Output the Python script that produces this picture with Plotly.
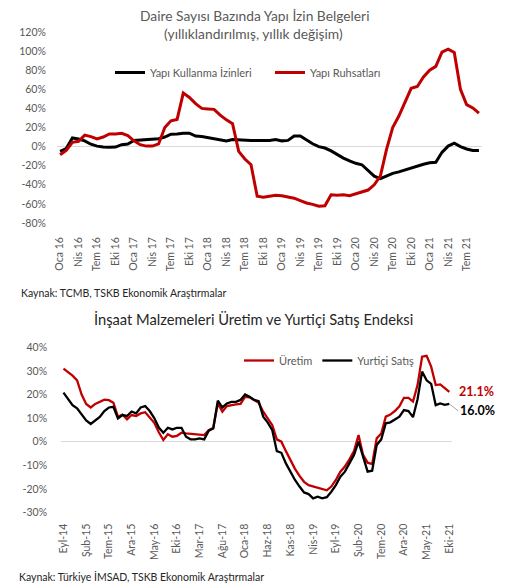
import plotly.graph_objects as go

W, H = 511, 583

MONTHS_TR = ["Oca", "Şub", "Mar", "Nis", "May", "Haz", "Tem", "Ağu", "Eyl", "Eki", "Kas", "Ara"]

# ---------------- Top chart: Jan 2016 - Sep 2021 ----------------
top_months = [f"{MONTHS_TR[i % 12]} {16 + i // 12}" for i in range(69)]
top_tick_labels = ["Oca 16", "Nis 16", "Tem 16", "Eki 16", "Oca 17", "Nis 17", "Tem 17", "Eki 17",
                   "Oca 18", "Nis 18", "Tem 18", "Eki 18", "Oca 19", "Nis 19", "Tem 19", "Eki 19",
                   "Oca 20", "Nis 20", "Tem 20", "Eki 20", "Oca 21", "Nis 21", "Tem 21"]
top_y_ticks = [-80, -60, -40, -20, 0, 20, 40, 60, 80, 100, 120]
top_y_labels = ["-80%", "-60%", "-40%", "-20%", "0%", "20%", "40%", "60%", "80%", "100%", "120%"]

yapi_kullanma = [-5, -2, 9, 8, 6, 2.5, 0.5, -0.5, -0.7, -0.5, 2, 2.8, 6.5, 7, 7, 8, 8.2, 10,
                 13, 13.2, 14, 14, 11, 10.5, 9.5, 8.5, 7.5, 6, 7.5, 7, 6.5, 6.3, 6.5, 6.3, 6.5,
                 7.5, 6, 6.5, 11, 11, 7, 3, 0, -1.5, -4.5, -8.5, -12, -15, -17.5, -19, -25, -31,
                 -33.5, -31, -28, -26.5, -24.5, -22, -20, -18.5, -17, -16.5, -6, 0.5, 3.5, 0,
                 -2.5, -4, -4]
yapi_ruhsat = [-8.5, -4, 4.5, 5.6, 12, 10.5, 8, 10, 13.2, 13.2, 14, 11.5, 6, 2, 0.5, 0.5, 2.8,
               20, 27, 28.5, 56, 51.5, 45, 40, 39.5, 39, 33, 28, 24, -5, -13, -19, -52, -53, -52,
               -51, -51.5, -52.5, -54, -56.5, -59, -60.5, -62.5, -62, -50.5, -51, -50.5, -51.5,
               -49.5, -47.5, -45.5, -40, -31, -3, 20, 32, 47, 61, 63, 73, 80, 84, 99, 102, 98.5,
               60, 44, 40.5, 35]

# ---------------- Bottom chart: Sep 2014 - Oct 2021 ----------------
bot_months = [f"{MONTHS_TR[(8 + i) % 12]}-{14 + (8 + i) // 12}" for i in range(86)]
bot_tick_labels = ["Eyl-14", "Şub-15", "Tem-15", "Ara-15", "May-16", "Eki-16", "Mar-17", "Ağu-17",
                   "Oca-18", "Haz-18", "Kas-18", "Nis-19", "Eyl-19", "Şub-20", "Tem-20", "Ara-20",
                   "May-21", "Eki-21"]
bot_y_ticks = [-30, -20, -10, 0, 10, 20, 30, 40]
bot_y_labels = ["-30%", "-20%", "-10%", "0%", "10%", "20%", "30%", "40%"]

uretim = [31, 29.5, 28, 26, 20, 16, 14.5, 16, 17, 17.8, 17.6, 16.5, 10.6, 11.5, 9.5, 11.3, 10.9,
          12, 12.5, 10, 8, 4, 0.7, 3.2, 2.1, 2.5, 3.8, 3.5, 3.3, 3.2, 3, 2.8, 4.9, 5.9, 16.2, 12.7,
          15.1, 15.6, 15.8, 16, 19, 18.8, 17.5, 16.5, 12.7, 9.9, 7, 1, 0, -4, -8, -11.5, -14.5,
          -17, -18.4, -19, -19.5, -20.3, -20.6, -19, -16.2, -12.7, -10.5, -7.5, -4, 2.8, -5.6,
          -8.9, -9.5, 1.4, 3.5, 10.6, 11.5, 13, 15, 18.6, 18.6, 17, 24, 36, 36.4, 31.8, 24, 24.3,
          22.6, 21.1]
yurtici_satis = [20.8, 18.4, 15.5, 14.1, 11.5, 9, 7.5, 9.2, 10.5, 13, 14.5, 14.8, 9.9, 11.3, 10.9,
                 12.8, 12, 14.5, 15.1, 13, 10, 6, 3.8, 5.9, 5.2, 5.9, 5.9, 2.1, 1, 1, 1.4, 1, 4.7,
                 5.6, 17.4, 14.5, 16.2, 16.9, 16.9, 17.7, 20, 19, 17.7, 17.2, 10.6, 8.1, 4.9, -4,
                 -4.7, -9.2, -12.7, -16.2, -19, -21.5, -22.2, -24, -23.3, -24, -23.5, -21.2, -18.4,
                 -14.8, -12.7, -9.2, -5.6, 0, -6.4, -12.7, -12.3, -1.4, 1, 7.8, 8.2, 9.5, 10.6, 13.4,
                 13, 10.4, 18, 29.7, 26, 24.5, 15.5, 16.2, 15.6, 16.0]

RED = "#C00000"
BLACK = "#000000"
TICK_GREY = "#595959"
FONT = "Lato"


def px_x(p):
    return p / W


def px_y(p):
    return 1 - p / H


fig = go.Figure()
fig.add_trace(go.Scatter(x=top_months, y=yapi_kullanma, name="Yapı Kullanma İzinleri", mode="lines",
                         line=dict(color=BLACK, width=3), xaxis="x", yaxis="y", legend="legend"))
fig.add_trace(go.Scatter(x=top_months, y=yapi_ruhsat, name="Yapı Ruhsatları", mode="lines",
                         line=dict(color=RED, width=3), xaxis="x", yaxis="y", legend="legend"))
fig.add_trace(go.Scatter(x=bot_months, y=uretim, name="Üretim", mode="lines",
                         line=dict(color=RED, width=2.3), xaxis="x2", yaxis="y2", legend="legend2"))
fig.add_trace(go.Scatter(x=bot_months, y=yurtici_satis, name="Yurtiçi Satış", mode="lines",
                         line=dict(color=BLACK, width=2.3), xaxis="x2", yaxis="y2", legend="legend2"))

tickfont = dict(family=FONT, size=10.5, color=TICK_GREY)
hidden_ticks = dict(ticks="outside", tickcolor="rgba(0,0,0,0)", automargin=False,
                    showgrid=False, showline=False, tickfont=tickfont, tickmode="array")

fig.update_layout(
    width=W, height=H,
    margin=dict(l=0, r=0, t=0, b=0, pad=0, autoexpand=False),
    paper_bgcolor="white", plot_bgcolor="white",
    font=dict(family=FONT, color=TICK_GREY),
    hovermode=False,
    xaxis=dict(domain=[px_x(57), px_x(482)], anchor="y", type="category",
               range=[-0.5, len(top_months) - 0.5],
               tickvals=top_tick_labels, ticktext=top_tick_labels, tickangle=-90,
               zeroline=False, ticklen=9, **hidden_ticks),
    yaxis=dict(domain=[px_y(223), px_y(32)], anchor="x", range=[-80, 120],
               tickvals=top_y_ticks, ticktext=top_y_labels,
               zeroline=True, zerolinecolor="#d9d9d9", zerolinewidth=1, ticklen=8,
               **hidden_ticks),
    xaxis2=dict(domain=[px_x(61.2), px_x(451.6)], anchor="y2", type="category",
                range=[-0.5, len(bot_months) - 0.5],
                tickvals=bot_tick_labels, ticktext=bot_tick_labels, tickangle=-90,
                zeroline=False, ticklen=6, **hidden_ticks),
    yaxis2=dict(domain=[px_y(512.5), px_y(347.3)], anchor="x2", range=[-30, 40],
                tickvals=bot_y_ticks, ticktext=bot_y_labels,
                zeroline=True, zerolinecolor="#d9d9d9", zerolinewidth=1, ticklen=11,
                **hidden_ticks),
    legend=dict(orientation="h", x=px_x(110), xanchor="left", y=px_y(58), yanchor="top",
                font=dict(family=FONT, size=11, color=TICK_GREY), bgcolor="rgba(0,0,0,0)",
                itemwidth=30, tracegroupgap=0, entrywidth=115, entrywidthmode="pixels"),
    legend2=dict(orientation="h", x=px_x(239), xanchor="left", y=px_y(346), yanchor="top",
                 font=dict(family=FONT, size=11, color=TICK_GREY), bgcolor="rgba(0,0,0,0)",
                 itemwidth=30, tracegroupgap=0),
    showlegend=True,
)

annotations = [
    dict(text="Daire Sayısı Bazında Yapı İzin Belgeleri", x=px_x(254.5), y=px_y(15),
         font=dict(family=FONT, size=13.8, color=TICK_GREY)),
    dict(text="(yıllıklandırılmış, yıllık değişim)", x=px_x(253), y=px_y(33.5),
         font=dict(family=FONT, size=13.8, color=TICK_GREY)),
    dict(text="İnşaat Malzemeleri Üretim ve Yurtiçi Satış Endeksi", x=px_x(253.5), y=px_y(318.5),
         font=dict(family=FONT, size=14.7, color="#262626")),
    dict(text="Kaynak: TCMB, TSKB Ekonomik Araştırmalar", x=px_x(19), y=px_y(293.5),
         xanchor="left", font=dict(family=FONT, size=10.5, color="#262626")),
    dict(text="Kaynak: Türkiye İMSAD, TSKB Ekonomik Araştırmalar", x=px_x(17), y=px_y(576),
         xanchor="left", font=dict(family=FONT, size=10.5, color="#262626")),
]
for a in annotations:
    a.update(xref="paper", yref="paper", showarrow=False)
    a.setdefault("xanchor", "center")
    a.setdefault("yanchor", "middle")

annotations.append(dict(text=f"<b>{uretim[-1]:.1f}%</b>", x=bot_months[-1], y=uretim[-1],
                        xref="x2", yref="y2", xanchor="left", yanchor="middle", xshift=8,
                        showarrow=False, font=dict(family=FONT, size=12.5, color=RED)))
annotations.append(dict(text=f"<b>{yurtici_satis[-1]:.1f}%</b>", x=bot_months[-1],
                        y=yurtici_satis[-1], xref="x2", yref="y2", xanchor="left",
                        yanchor="middle", showarrow=True, ax=9, ay=7, arrowhead=0,
                        arrowwidth=1, arrowcolor="#a6a6a6",
                        font=dict(family=FONT, size=12.5, color=BLACK)))
fig.update_layout(annotations=annotations)

fig.write_html("out.html", config={"displayModeBar": False, "staticPlot": True},
               post_script="document.body.style.margin='0';")
